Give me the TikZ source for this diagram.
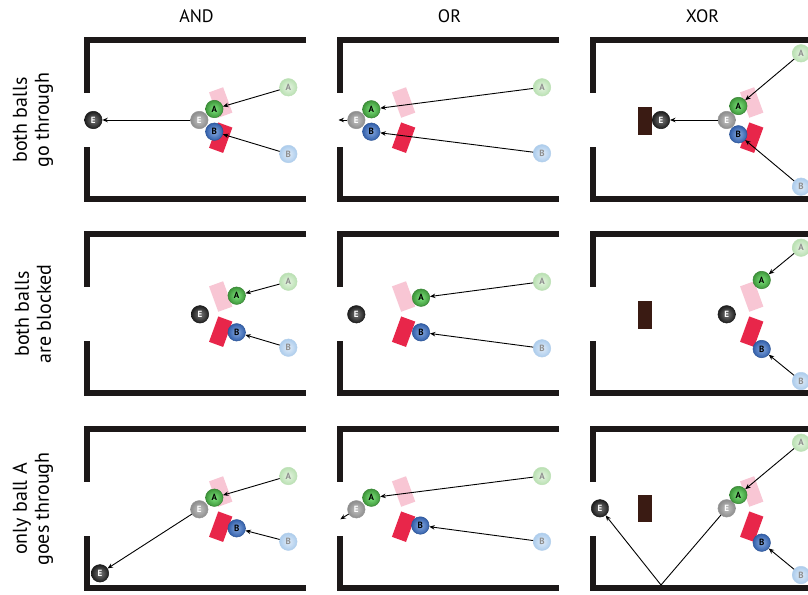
\documentclass[tikz,border=0pt]{standalone}
\usepackage{fontspec}
\setmainfont{PT Sans}
\usetikzlibrary{arrows.meta}
\definecolor{wallc}{HTML}{1C1818}
\definecolor{pinkc}{HTML}{F8C6D4}
\definecolor{redc}{HTML}{E8264A}
\definecolor{brownc}{HTML}{3A1B13}
\definecolor{ghosttxt}{HTML}{8E8E8E}
\tikzset{
  wall/.style={line width=6pt, draw=wallc, line join=miter},
  ball/.style={circle, minimum size=17.5pt, inner sep=0pt, shading=radial, line width=0.5pt,
    font=\fontsize{9}{9}\selectfont\bfseries},
  ballA/.style={ball, inner color=green!45!white!90!black, outer color={rgb,255:red,62;green,150;blue,58}, draw={rgb,255:red,55;green,130;blue,52}, text=black},
  ballB/.style={ball, inner color={rgb,255:red,135;green,170;blue,225}, outer color={rgb,255:red,50;green,95;blue,170}, draw={rgb,255:red,45;green,85;blue,150}, text=black},
  ballE/.style={ball, inner color={rgb,255:red,120;green,120;blue,120}, outer color={rgb,255:red,30;green,30;blue,30}, draw={rgb,255:red,25;green,25;blue,25}, text=white},
  ballEg/.style={ball, inner color={rgb,255:red,195;green,195;blue,195}, outer color={rgb,255:red,140;green,140;blue,140}, draw={rgb,255:red,150;green,150;blue,150}, text=white},
  ghostA/.style={ball, inner color={rgb,255:red,230;green,245;blue,226}, outer color={rgb,255:red,185;green,224;blue,178}, draw={rgb,255:red,190;green,225;blue,183}, text=ghosttxt},
  ghostB/.style={ball, inner color={rgb,255:red,224;green,236;blue,249}, outer color={rgb,255:red,172;green,204;blue,236}, draw={rgb,255:red,180;green,208;blue,236}, text=ghosttxt},
  arr/.style={-{Stealth[length=5.5pt,width=4.5pt]}, line width=0.9pt, draw=black},
  pinkgate/.style={fill=pinkc, minimum width=15pt, minimum height=27pt, inner sep=0pt, rotate=20},
  redgate/.style={fill=redc, minimum width=15pt, minimum height=27pt, inner sep=0pt, rotate=-20},
  blockc/.style={fill=brownc, draw=none},
  title/.style={font=\fontsize{18}{18}\selectfont},
  rowlab/.style={font=\fontsize{20}{22}\selectfont, rotate=90, align=center}
}
\newcommand\panelwalls{%
  \draw[wall] (219,0) -- (0,0) -- (0,52.7);
  \draw[wall] (0,107) -- (0,159) -- (219,159);
}
\begin{document}
\begin{tikzpicture}[x=1pt,y=-1pt]
\useasboundingbox (0,0) rectangle (808,594);
\clip (0,0) rectangle (808,594);
\fill[white] (0,0) rectangle (808,594);

% titles
\node[title] (tAND) at (196.5,16) {AND};
\node[title] (tOR) at (449.5,16) {OR};
\node[title] (tXOR) at (702.5,16) {XOR};

% row labels
\node[rowlab] (l1) at (33,120) {both balls\\go through};
\node[rowlab] (l2) at (33,314) {both balls\\are blocked};
\node[rowlab] (l3) at (33,509) {only ball A\\goes through};

% ---------- AND row 1
\begin{scope}[shift={(87,40)}]
\panelwalls
\node[pinkgate] (p11) at (133.7,62.5) {};
\node[redgate] (r11) at (133.7,97.7) {};
\node[ghostA] (gA11) at (201.3,47.3) {A};
\node[ghostB] (gB11) at (201.3,114) {B};
\node[ballEg] (Eg11) at (112.3,80) {E};
\node[ballA] (A11) at (127.3,69) {A};
\node[ballB] (B11) at (127.3,91.7) {B};
\node[ballE] (Ed11) at (6.3,80) {E};
\draw[arr] (gA11) -- (A11);
\draw[arr] (gB11) -- (B11);
\draw[arr] (Eg11) -- (Ed11);
\end{scope}

% ---------- OR row 1
\begin{scope}[shift={(340,40)}]
\panelwalls
\node[pinkgate] (p12) at (63.6,62.5) {};
\node[redgate] (r12) at (63.6,97.7) {};
\node[ghostA] (gA12) at (202,47.3) {A};
\node[ghostB] (gB12) at (202,113.3) {B};
\node[ballEg] (Eg12) at (16.3,80) {E};
\node[ballA] (A12) at (31.3,69.3) {A};
\node[ballB] (B12) at (31.3,91.7) {B};
\coordinate (o12) at (-1.5,80);
\draw[arr] (gA12) -- (A12);
\draw[arr] (gB12) -- (B12);
\draw[arr] (Eg12) -- (o12);
\end{scope}

% ---------- XOR row 1
\begin{scope}[shift={(593,40)}]
\panelwalls
\fill[blockc] (45.3,67.3) rectangle (58.7,94.7);
\node[pinkgate] (p13) at (158.7,62.5) {};
\node[redgate] (r13) at (158.7,97.7) {};
\node[ghostA] (gA13) at (208,13.3) {A};
\node[ghostB] (gB13) at (208,146.7) {B};
\node[ballEg] (Eg13) at (133.7,80) {E};
\node[ballA] (A13) at (145.3,66) {A};
\node[ballB] (B13) at (145.3,94.3) {B};
\node[ballE] (Ed13) at (68,80) {E};
\draw[arr] (gA13) -- (A13);
\draw[arr] (gB13) -- (B13);
\draw[arr] (Eg13) -- (Ed13);
\end{scope}

% ---------- AND row 2
\begin{scope}[shift={(87,234)}]
\panelwalls
\node[pinkgate] (p21) at (133.7,62.5) {};
\node[redgate] (r21) at (133.7,97.7) {};
\node[ghostA] (gA21) at (201.3,47.7) {A};
\node[ghostB] (gB21) at (201.3,113.7) {B};
\node[ballA] (A21) at (149.7,61.7) {A};
\node[ballB] (B21) at (149.7,98.3) {B};
\node[ballE] (Ed21) at (113,80.3) {E};
\draw[arr] (gA21) -- (A21);
\draw[arr] (gB21) -- (B21);
\end{scope}

% ---------- OR row 2
\begin{scope}[shift={(340,234)}]
\panelwalls
\node[pinkgate] (p22) at (63.6,62.5) {};
\node[redgate] (r22) at (63.6,97.7) {};
\node[ghostA] (gA22) at (202,47.7) {A};
\node[ghostB] (gB22) at (202,114.3) {B};
\node[ballA] (A22) at (81,63.7) {A};
\node[ballB] (B22) at (81,98.3) {B};
\node[ballE] (Ed22) at (16.3,80.3) {E};
\draw[arr] (gA22) -- (A22);
\draw[arr] (gB22) -- (B22);
\end{scope}

% ---------- XOR row 2
\begin{scope}[shift={(593,234)}]
\panelwalls
\fill[blockc] (45.3,67) rectangle (58.7,95);
\node[pinkgate] (p23) at (158.7,62.5) {};
\node[redgate] (r23) at (158.7,97.7) {};
\node[ghostA] (gA23) at (208,13.7) {A};
\node[ghostB] (gB23) at (208,147) {B};
\node[ballA] (A23) at (168.7,46) {A};
\node[ballB] (B23) at (168.7,115) {B};
\node[ballE] (Ed23) at (133.7,80.3) {E};
\draw[arr] (gA23) -- (A23);
\draw[arr] (gB23) -- (B23);
\end{scope}

% ---------- AND row 3
\begin{scope}[shift={(87,429)}]
\panelwalls
\node[pinkgate] (p31) at (133.7,62.5) {};
\node[redgate] (r31) at (133.7,97.7) {};
\node[ghostA] (gA31) at (201.3,47) {A};
\node[ghostB] (gB31) at (201.3,112.7) {B};
\node[ballEg] (Eg31) at (112.3,80.3) {E};
\node[ballA] (A31) at (127.3,68.7) {A};
\node[ballB] (B31) at (149.7,99.3) {B};
\node[ballE] (Ed31) at (13,144.3) {E};
\draw[arr] (gA31) -- (A31);
\draw[arr] (gB31) -- (B31);
\draw[arr] (Eg31) -- (Ed31);
\end{scope}

% ---------- OR row 3
\begin{scope}[shift={(340,429)}]
\panelwalls
\node[pinkgate] (p32) at (63.6,62.5) {};
\node[redgate] (r32) at (63.6,97.7) {};
\node[ghostA] (gA32) at (202,47) {A};
\node[ghostB] (gB32) at (202,112.7) {B};
\node[ballEg] (Eg32) at (16.3,80.3) {E};
\node[ballA] (A32) at (31.3,68.7) {A};
\node[ballB] (B32) at (80.3,96.5) {B};
\coordinate (o32) at (0.3,90.3);
\draw[arr] (gA32) -- (A32);
\draw[arr] (gB32) -- (B32);
\draw[arr] (Eg32) -- (o32);
\end{scope}

% ---------- XOR row 3
\begin{scope}[shift={(593,429)}]
\panelwalls
\fill[blockc] (45.3,65.5) rectangle (58.7,93);
\node[pinkgate] (p33) at (158.7,62.5) {};
\node[redgate] (r33) at (158.7,97.7) {};
\node[ghostA] (gA33) at (208,13.7) {A};
\node[ghostB] (gB33) at (208,146) {B};
\node[ballEg] (Eg33) at (133.7,79.3) {E};
\node[ballA] (A33) at (145.3,66) {A};
\node[ballB] (B33) at (168.7,113.7) {B};
\node[ballE] (Ed33) at (7,79.3) {E};
\coordinate (bn33) at (68,156);
\draw[arr] (gA33) -- (A33);
\draw[arr] (gB33) -- (B33);
\draw[line width=0.9pt] (Eg33) -- (bn33);
\draw[arr] (bn33) -- (Ed33);
\end{scope}
\end{tikzpicture}
\end{document}
